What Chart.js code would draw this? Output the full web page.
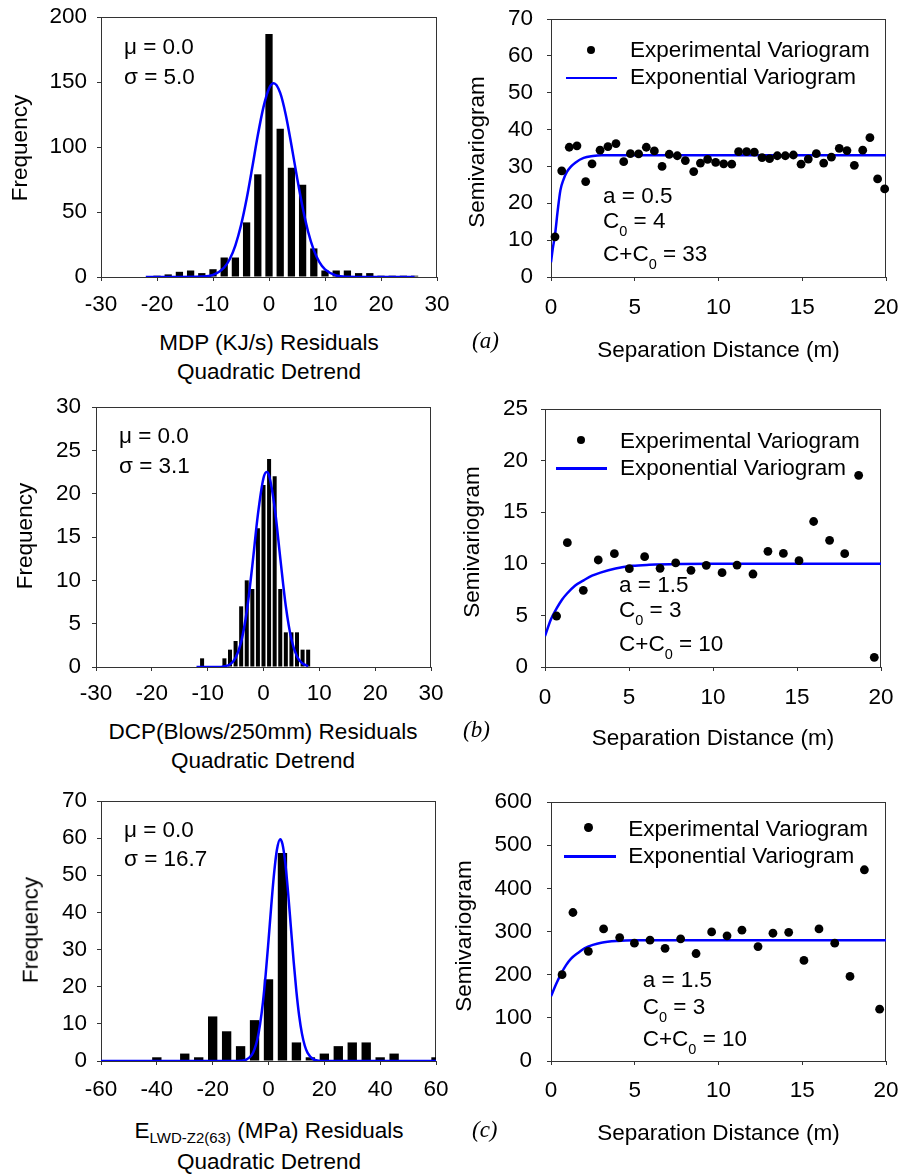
<!DOCTYPE html>
<html><head><meta charset="utf-8">
<script src="https://cdn.jsdelivr.net/npm/chart.js@4.4.1/dist/chart.umd.min.js"></script>
<style>
html,body{margin:0;padding:0;background:#fff;}
#wrap{position:relative;width:902px;height:1175px;overflow:hidden;font-family:'Liberation Sans',Arial,sans-serif;color:#000;}
canvas{position:absolute;}
.t{position:absolute;white-space:nowrap;}
.sub{font-size:14.5px;position:relative;top:8px;line-height:0;}
.sub2{font-size:15px;position:relative;top:5px;line-height:0;}
.serif{font-family:'Liberation Serif','Times New Roman',serif;font-style:italic;}
.dot{position:absolute;width:8.8px;height:8.8px;border-radius:50%;background:#000;}
.lline{position:absolute;height:2.5px;background:#0000ff;}
</style></head><body><div id="wrap"></div>
<script>
// ---------- DATA ----------
// (a) MDP residual histogram
const mdpBins = [-20,-18,-16,-14,-12,-10,-8,-6,-4,-2,0,2,4,6,8,10,12,14,16,18,20,22,24,26];
const mdpFreq = [1,2,4,5,3,6,15,15,42,79,187,114,84,71,22,5,5,5,3,3,1,1,1,1];
const mdpCurveX = [-22,-16,-12,-10,-8,-7,-6,-5,-4,-3,-2,-1,0,0.85,2,3,4,5,6,7,8,9,10,12,14,18,26];
const mdpCurveY = [0,0,0.3,1.6,7.3,13.8,24.4,39.8,60,84,109,130.5,145,149,141.6,124.7,101.6,76.7,53.6,34.6,20.7,11.5,5.9,1.2,0.2,0,0];
// (a) MDP variogram
const mdpLagX = [0.24,0.64,1.09,1.55,2.07,2.45,2.93,3.4,3.88,4.34,4.74,5.23,5.69,6.17,6.63,7.06,7.54,8.02,8.52,8.92,9.35,9.83,10.31,10.79,11.2,11.68,12.14,12.6,13.05,13.51,13.99,14.47,14.93,15.36,15.84,16.28,16.74,17.21,17.67,18.11,18.61,19.04,19.5,19.92];
const mdpGamma = [10.9,28.8,35.2,35.6,25.9,30.7,34.4,35.4,36.2,31.3,33.5,33.4,35.2,34.2,30.0,33.3,32.9,31.6,28.6,30.9,31.9,31.1,30.7,30.6,34.0,34.0,33.9,32.4,32.1,32.9,32.9,33.1,30.6,32.0,33.5,30.9,32.5,34.9,34.3,30.3,34.4,37.8,26.6,23.9];
const mdpModelX = [0,0.1,0.24,0.4,0.56,0.75,0.95,1.2,1.45,1.95,2.5,3,5,20];
const mdpModelY = [4,7.5,11.5,18,23.5,26.5,28.5,30,31,32.3,32.8,33,33,33];

// (b) DCP residual histogram
const dcpBins = [-11,-7,-6,-5,-4,-3,-2,-1,0,1,2,3,4,5,6,7,8];
const dcpFreq = [1,1,2,3,7,10,9,16,21,24,22,9,4,4,4,2,2];
const dcpCurveX = [-12,-8,-7,-6,-5,-4,-3,-2,-1,0,0.57,1,2,3,4,5,6,7,8];
const dcpCurveY = [0,0,0.1,0.3,1.05,2.9,6.4,11.7,17.6,21.8,22.5,22.1,18.4,12.6,7.0,3.2,1.2,0.4,0.1];
// (b) DCP variogram
const dcpLagX = [0.69,1.33,2.28,3.17,4.13,5.02,5.93,6.85,7.78,8.69,9.6,10.54,11.43,12.38,13.27,14.19,15.12,15.99,16.94,17.84,18.67,19.6];
const dcpGamma = [4.94,12.05,7.43,10.37,10.98,9.53,10.69,9.56,10.08,9.37,9.85,9.14,9.88,9.01,11.21,11.01,10.3,14.1,12.27,10.98,18.57,0.94];
const dcpModelX = [0,0.35,0.7,1.0,1.3,1.8,2.3,2.8,3.3,4.2,5.2,6.2,8,10,20];
const dcpModelY = [3,4.6,5.7,6.5,7.1,7.9,8.4,8.85,9.15,9.55,9.8,9.9,9.98,10,10];

// (c) ELWD residual histogram
const lwdBins = [-40,-30,-25,-20,-15,-10,-5,0,5,10,15,20,25,30,35,40,45,60];
const lwdFreq = [1,2,1,12,8,4,11,22,56,5,1,2,4,5,5,1,2,1];
const lwdCurveX = [-60,-12,-10,-8,-6,-5,-4,-3,-2,-1,0,1,2,3,4.2,5,6,7,8,9,10,11,12,13,14,16,18,20,60];
const lwdCurveY = [0,0,0.05,0.35,1.6,3.2,5.8,10.0,15.8,23.4,32.4,41.9,50.5,56.8,59.7,58.4,53.4,45.5,36.2,26.9,18.7,12.1,7.3,4.1,2.2,0.5,0.1,0,0];
// (c) ELWD variogram
const lwdLagX = [0.66,1.31,2.23,3.14,4.1,4.98,5.91,6.81,7.74,8.66,9.59,10.51,11.4,12.36,13.25,14.19,15.1,16.0,16.94,17.85,18.71,19.62];
const lwdGamma = [200,344,254,306,286,273,280,261,283,249,299,290,303,265,296,298,233,306,273,196,443,120];
const lwdModelX = [0,0.3,0.6,0.9,1.2,1.6,2.0,2.5,3.0,4.0,5,7,20];
const lwdModelY = [150,178,202,222,237,250,261,269,274,278,279.5,280,280];

// tick labels
const resid30Ticks = [-30,-20,-10,0,10,20,30];
const resid60Ticks = [-60,-40,-20,0,20,40,60];
const mdpFreqTicks = [0,50,100,150,200];
const dcpFreqTicks = [0,5,10,15,20,25,30];
const lwdFreqTicks = [0,10,20,30,40,50,60,70];
const distTicks = [0,5,10,15,20];
const mdpGammaTicks = [0,10,20,30,40,50,60,70];
const dcpGammaTicks = [0,5,10,15,20,25];
const lwdGammaTicks = [0,100,200,300,400,500,600];

// ---------- RENDERING ----------
const wrap = document.getElementById('wrap');
const FONT = "'Liberation Sans', Arial, sans-serif";
const FS = 22.5;
const AXIS = '#333';
const BLUE = '#0000ff';
const PAD_T = 20, PAD_R = 25, Y_W = 100, X_H = 50;

const framePlugin = {
  id: 'frame',
  beforeDatasetsDraw(chart) {
    const a = chart.chartArea, ctx = chart.ctx;
    ctx.save();
    ctx.strokeStyle = AXIS; ctx.lineWidth = 1;
    ctx.strokeRect(a.left + 0.5, a.top + 0.5, a.right - a.left - 1, a.bottom - a.top);
    ctx.restore();
  }
};

function axis(min, max, ticks, pad, isX) {
  return {
    type: 'linear', min, max, offset: false,
    afterBuildTicks: s => { s.ticks = ticks.map(v => ({ value: v })); },
    afterFit: s => {
      if (isX) s.height = X_H; else s.width = Y_W;
      s.paddingLeft = 0; s.paddingRight = 0; s.paddingTop = 0; s.paddingBottom = 0;
    },
    grid: { display: true, drawOnChartArea: false, drawTicks: true, tickLength: 4, color: AXIS, lineWidth: 1, offset: false },
    border: { display: true, color: AXIS, width: 1 },
    ticks: { padding: pad, color: '#000', font: { family: FONT, size: FS }, maxRotation: 0, minRotation: 0, autoSkip: false, callback: v => String(v) }
  };
}

function makeCanvas(r) {
  const c = document.createElement('canvas');
  const w = r.R - r.L + Y_W + PAD_R, h = r.B - r.T + PAD_T + X_H;
  c.width = w; c.height = h;
  c.style.left = (r.L - Y_W) + 'px'; c.style.top = (r.T - PAD_T) + 'px';
  c.style.width = w + 'px'; c.style.height = h + 'px';
  wrap.appendChild(c);
  return c;
}

const baseOpts = (scales) => ({
  responsive: false, animation: false, devicePixelRatio: 1, events: [],
  layout: { padding: { left: 0, top: PAD_T, right: PAD_R, bottom: 0 } },
  plugins: { legend: { display: false }, tooltip: { enabled: false } },
  scales
});

const pts = (xs, ys) => xs.map((x, i) => ({ x, y: ys[i] }));

function histogram(r, bins, freq, cx, cy, xr, xt, yr, yt, bp, xpad, ypad) {
  new Chart(makeCanvas(r), {
    type: 'bar',
    data: { datasets: [
      { type: 'line', data: pts(cx, cy), borderColor: BLUE, borderWidth: 2.5, pointRadius: 0, cubicInterpolationMode: 'monotone', fill: false, order: 0 },
      { type: 'bar', data: pts(bins, freq), backgroundColor: '#000', borderWidth: 0, barPercentage: bp, categoryPercentage: 1, clip: 0, order: 1 }
    ]},
    options: baseOpts({ x: axis(xr[0], xr[1], xt, xpad, true), y: axis(yr[0], yr[1], yt, ypad, false) }),
    plugins: [framePlugin]
  });
}

function variogram(r, lx, g, mx, my, yr, yt, xpad, ypad) {
  new Chart(makeCanvas(r), {
    type: 'scatter',
    data: { datasets: [
      { type: 'scatter', data: pts(lx, g), pointRadius: 4.4, pointBackgroundColor: '#000', pointBorderWidth: 0, borderColor: '#000', clip: false, order: 0 },
      { type: 'line', data: pts(mx, my), borderColor: BLUE, borderWidth: 2.5, pointRadius: 0, cubicInterpolationMode: 'monotone', fill: false, order: 1 }
    ]},
    options: baseOpts({ x: axis(0, 20, distTicks, xpad, true), y: axis(yr[0], yr[1], yt, ypad, false) }),
    plugins: [framePlugin]
  });
}

const P1 = { L: 101, T: 17, R: 437, B: 277 };
const P2 = { L: 551, T: 19, R: 886, B: 277 };
const P3 = { L: 96, T: 407, R: 431, B: 667 };
const P4 = { L: 545, T: 409, R: 881, B: 667 };
const P5 = { L: 101, T: 801, R: 436, B: 1061 };
const P6 = { L: 551, T: 802, R: 886, B: 1061 };

histogram(P1, mdpBins, mdpFreq, mdpCurveX, mdpCurveY, [-30, 30], resid30Ticks, [0, 200], mdpFreqTicks, 0.65, 10.5, 10);
variogram(P2, mdpLagX, mdpGamma, mdpModelX, mdpModelY, [0, 70], mdpGammaTicks, 13.5, 14);
histogram(P3, dcpBins, dcpFreq, dcpCurveX, dcpCurveY, [-30, 30], resid30Ticks, [0, 30], dcpFreqTicks, 0.72, 9.5, 11);
variogram(P4, dcpLagX, dcpGamma, dcpModelX, dcpModelY, [0, 25], dcpGammaTicks, 13, 13);
histogram(P5, lwdBins, lwdFreq, lwdCurveX, lwdCurveY, [-60, 60], resid60Ticks, [0, 70], lwdFreqTicks, 0.67, 11, 10);
variogram(P6, lwdLagX, lwdGamma, lwdModelX, lwdModelY, [0, 600], lwdGammaTicks, 12.5, 15);

// ---------- TEXT ----------
function text(html, x, base, o = {}) {
  const d = document.createElement('div');
  d.className = 't' + (o.cls ? ' ' + o.cls : '');
  d.innerHTML = html;
  const fs = o.size || FS;
  const k = o.cls === 'serif' ? 0.8375 : 0.8465;
  d.style.fontSize = fs + 'px'; d.style.lineHeight = fs + 'px';
  d.style.top = (base - k * fs) + 'px';
  d.style.left = x + 'px';
  if (o.center) d.style.transform = 'translateX(-50%)';
  wrap.appendChild(d);
}
function vtext(str, cx, cy) {
  const d = document.createElement('div');
  d.className = 't';
  d.textContent = str;
  d.style.fontSize = FS + 'px'; d.style.lineHeight = FS + 'px';
  d.style.left = cx + 'px'; d.style.top = cy + 'px';
  d.style.transform = 'translate(-50%,-50%) rotate(-90deg)';
  wrap.appendChild(d);
}
function legend(dx, dy, lx1, lx2, ly, tx, b1, b2) {
  const d = document.createElement('div'); d.className = 'dot';
  d.style.left = (dx - 4.4) + 'px'; d.style.top = (dy - 4.4) + 'px'; wrap.appendChild(d);
  const l = document.createElement('div'); l.className = 'lline';
  l.style.left = lx1 + 'px'; l.style.width = (lx2 - lx1) + 'px'; l.style.top = (ly - 1.25) + 'px'; wrap.appendChild(l);
  text('Experimental Variogram', tx, b1);
  text('Exponential Variogram', tx, b2);
}
const C0 = 'C<span class="sub">0</span>';

// panel (a)
text('&mu; = 0.0', 124, 55); text('&sigma; = 5.0', 124, 85);
vtext('Frequency', 20, 148);
text('MDP (KJ/s) Residuals', 269, 351, { center: true });
text('Quadratic Detrend', 269, 380.5, { center: true });
legend(591, 50, 566, 617, 78, 630, 58, 85.5);
text('a = 0.5', 603, 204); text(C0 + ' = 4', 603, 229); text('C+' + C0 + ' = 33', 603, 262);
vtext('Semivariogram', 477, 152);
text('Separation Distance (m)', 718.5, 358.5, { center: true });
text('(a)', 472, 348, { cls: 'serif', size: 23 });

// panel (b)
text('&mu; = 0.0', 119, 444); text('&sigma; = 3.1', 119, 474);
vtext('Frequency', 25, 535.5);
text('DCP(Blows/250mm) Residuals', 263, 740, { center: true });
text('Quadratic Detrend', 263, 769.5, { center: true });
legend(581, 440, 556, 607, 468.3, 620, 449, 475.7);
text('a = 1.5', 619, 593); text(C0 + ' = 3', 619, 618); text('C+' + C0 + ' = 10', 619, 651.7);
vtext('Semivariogram', 472, 542);
text('Separation Distance (m)', 713, 746, { center: true });
text('(b)', 463, 737, { cls: 'serif', size: 23 });

// panel (c)
text('&mu; = 0.0', 124, 838); text('&sigma; = 16.7', 124, 867);
vtext('Frequency', 31, 930);
text('E<span class="sub2">LWD-Z2(63)</span> (MPa) Residuals', 269, 1139, { center: true });
text('Quadratic Detrend', 269, 1169.7, { center: true });
legend(588.7, 827.7, 564, 615.7, 856.3, 628.3, 837.5, 863.7);
text('a = 1.5', 642.7, 988); text(C0 + ' = 3', 642.7, 1015); text('C+' + C0 + ' = 10', 642.7, 1046.7);
vtext('Semivariogram', 464, 936);
text('Separation Distance (m)', 718.5, 1141.4, { center: true });
text('(c)', 472, 1137, { cls: 'serif', size: 23 });
</script>
</body></html>
